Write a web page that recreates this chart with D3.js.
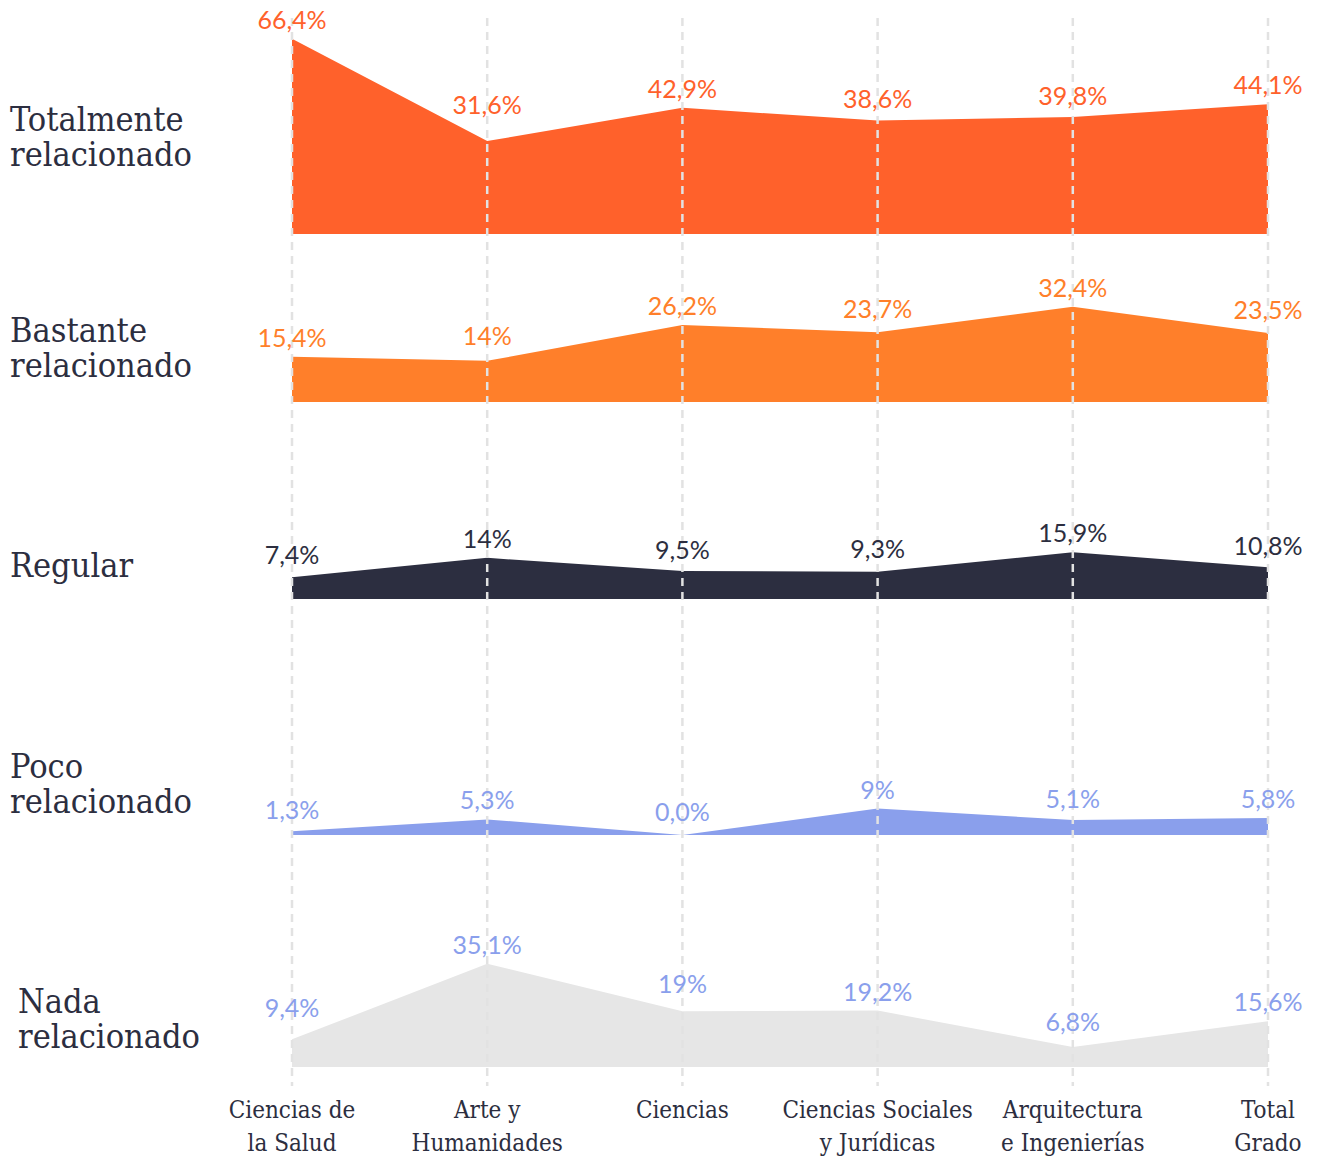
<!DOCTYPE html>
<html>
<head>
<meta charset="utf-8">
<script src="https://cdn.jsdelivr.net/npm/d3@7"></script>
<style>
  html, body { margin: 0; padding: 0; background: #fff; }
  .rowlab { font-family: "DejaVu Serif Condensed", "DejaVu Serif", serif; font-stretch: condensed; font-size: 34px; fill: #2c2e40; }
  .catlab { font-family: "DejaVu Serif Condensed", "DejaVu Serif", serif; font-stretch: condensed; font-size: 24px; fill: #2c2e40; }
  .val { font-family: Lato, "Open Sans", sans-serif; font-size: 25px; }
</style>
</head>
<body>
<svg id="chart" width="1317" height="1157"></svg>
<script>
// categories (x axis)
const categories = [
  ["Ciencias de", "la Salud"],
  ["Arte y", "Humanidades"],
  ["Ciencias"],
  ["Ciencias Sociales", "y Jurídicas"],
  ["Arquitectura", "e Ingenierías"],
  ["Total", "Grado"]
];

// row names
const rowNames = [
  ["Totalmente", "relacionado"],
  ["Bastante", "relacionado"],
  ["Regular"],
  ["Poco", "relacionado"],
  ["Nada", "relacionado"]
];

// values per row (%), one per category
const totalmente = [66.4, 31.6, 42.9, 38.6, 39.8, 44.1];
const bastante   = [15.4, 14.0, 26.2, 23.7, 32.4, 23.5];
const regular    = [7.4, 14.0, 9.5, 9.3, 15.9, 10.8];
const poco       = [1.3, 5.3, 0.0, 9.0, 5.1, 5.8];
const nada       = [9.4, 35.1, 19.0, 19.2, 6.8, 15.6];

// printed labels (as in the source)
const totalmenteLabels = ["66,4%", "31,6%", "42,9%", "38,6%", "39,8%", "44,1%"];
const bastanteLabels   = ["15,4%", "14%", "26,2%", "23,7%", "32,4%", "23,5%"];
const regularLabels    = ["7,4%", "14%", "9,5%", "9,3%", "15,9%", "10,8%"];
const pocoLabels       = ["1,3%", "5,3%", "0,0%", "9%", "5,1%", "5,8%"];
const nadaLabels       = ["9,4%", "35,1%", "19%", "19,2%", "6,8%", "15,6%"];

const series = [totalmente, bastante, regular, poco, nada];
const seriesLabels = [totalmenteLabels, bastanteLabels, regularLabels, pocoLabels, nadaLabels];

// styling / layout
const fills      = ["#ff612b", "#ff7f2a", "#2c2e40", "#8a9fec", "#e6e6e6"];
const textColors = ["#ff612b", "#ff7f2a", "#2c2e40", "#8a9fec", "#8a9fec"];
const baselines  = [234, 402, 599, 835, 1067];
const rowLabelY  = [131, 342, 577, 778, 1013];
const rowLabelX  = [10, 10, 10, 10, 18];

const svg = d3.select("#chart");

const x = d3.scalePoint().domain(d3.range(categories.length)).range([292, 1268]);
const h = d3.scaleLinear().domain([0, 100]).range([0, 294]);

// areas
series.forEach((vals, r) => {
  const b = baselines[r];
  const area = d3.area()
    .x((d, i) => x(i))
    .y0(b)
    .y1(d => b - h(d));
  svg.append("path")
    .attr("d", area(vals))
    .attr("fill", fills[r]);
});

// dashed gridlines over the areas
svg.append("g")
  .selectAll("line")
  .data(d3.range(categories.length))
  .join("line")
  .attr("x1", i => x(i)).attr("x2", i => x(i))
  .attr("y1", 18).attr("y2", 1086)
  .attr("stroke", "#e2e2e2")
  .attr("stroke-width", 2.5)
  .attr("stroke-dasharray", "8,6");

// value labels, nudged up where the line rises next to the label
series.forEach((vals, r) => {
  const b = baselines[r];
  const pts = vals.map((v, i) => [x(i), b - h(v)]);
  const lineAt = (px) => {
    for (let i = 0; i < pts.length - 1; i++) {
      const [x0, y0] = pts[i], [x1, y1] = pts[i + 1];
      if (px >= x0 && px <= x1) return y0 + (y1 - y0) * (px - x0) / (x1 - x0);
    }
    return Infinity;
  };
  const g = svg.append("g");
  vals.forEach((v, i) => {
    const [px, py] = pts[i];
    const half = 32;
    const top = Math.min(py, lineAt(px - half), lineAt(px + half));
    g.append("text")
      .attr("class", "val")
      .attr("x", px)
      .attr("y", top - 10)
      .attr("text-anchor", "middle")
      .attr("fill", textColors[r])
      .text(seriesLabels[r][i]);
  });
});

// row labels
rowNames.forEach((lines, r) => {
  const t = svg.append("text")
    .attr("class", "rowlab")
    .attr("x", rowLabelX[r])
    .attr("y", rowLabelY[r]);
  lines.forEach((ln, k) => {
    t.append("tspan").attr("x", rowLabelX[r]).attr("dy", k ? 35 : 0).text(ln);
  });
});

// category labels
categories.forEach((lines, i) => {
  const t = svg.append("text")
    .attr("class", "catlab")
    .attr("x", x(i))
    .attr("y", 1118)
    .attr("text-anchor", "middle");
  lines.forEach((ln, k) => {
    t.append("tspan").attr("x", x(i)).attr("dy", k ? 33 : 0).text(ln);
  });
});
</script>
</body>
</html>
